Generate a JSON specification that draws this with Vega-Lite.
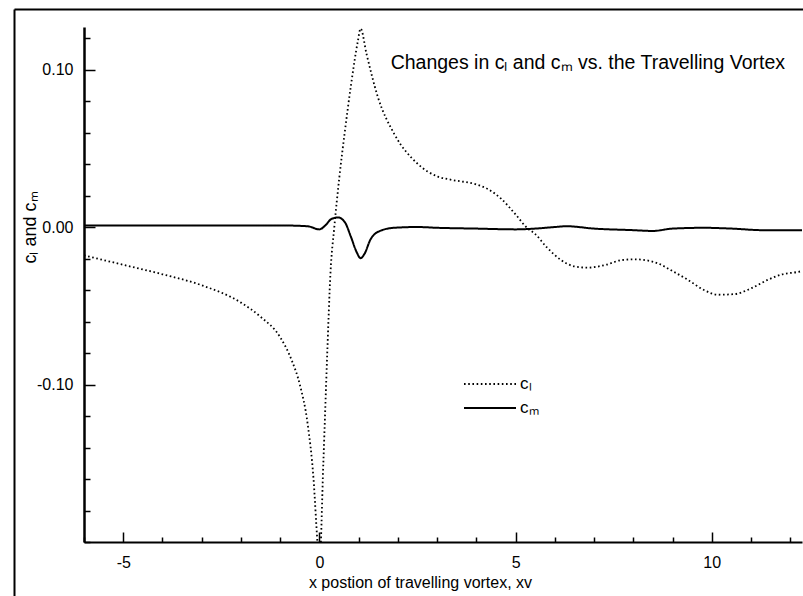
{
  "$schema": "https://vega.github.io/schema/vega-lite/v6.json",
  "autosize": {"type": "none"},
  "padding": {"left": 84, "top": 27, "right": 1, "bottom": 54},
  "width": 718,
  "height": 515,
  "background": "white",
  "config": {
    "view": {"stroke": null},
    "font": "Liberation Sans",
    "axis": {"domainColor": "black", "tickColor": "black", "labelColor": "black", "titleColor": "black", "labelFont": "Liberation Sans", "titleFont": "Liberation Sans", "titleFontWeight": "normal"}
  },
  "title": {
    "text": "Changes in cₗ and cₘ vs. the Travelling Vortex",
    "anchor": "end",
    "frame": "group",
    "orient": "top",
    "offset": -64,
    "dx": -17,
    "fontSize": 19.5,
    "fontWeight": "normal",
    "font": "Liberation Sans",
    "color": "black"
  },
  "data": {
    "values": [
      {"x": -6, "v": -0.018, "s": "cₗ"},
      {"x": -5, "v": -0.024, "s": "cₗ"},
      {"x": -4, "v": -0.030, "s": "cₗ"},
      {"x": -3, "v": -0.037, "s": "cₗ"},
      {"x": -2, "v": -0.048, "s": "cₗ"},
      {"x": -1.5, "v": -0.057, "s": "cₗ"},
      {"x": -1, "v": -0.070, "s": "cₗ"},
      {"x": -0.7, "v": -0.085, "s": "cₗ"},
      {"x": -0.5, "v": -0.100, "s": "cₗ"},
      {"x": -0.3, "v": -0.125, "s": "cₗ"},
      {"x": -0.15, "v": -0.160, "s": "cₗ"},
      {"x": -0.05, "v": -0.200, "s": "cₗ"},
      {"x": 0.0, "v": -0.215, "s": "cₗ"},
      {"x": 0.1, "v": -0.150, "s": "cₗ"},
      {"x": 0.2, "v": -0.080, "s": "cₗ"},
      {"x": 0.28, "v": -0.030, "s": "cₗ"},
      {"x": 0.38, "v": 0.000, "s": "cₗ"},
      {"x": 0.51, "v": 0.032, "s": "cₗ"},
      {"x": 0.64, "v": 0.059, "s": "cₗ"},
      {"x": 0.81, "v": 0.091, "s": "cₗ"},
      {"x": 0.98, "v": 0.118, "s": "cₗ"},
      {"x": 1.05, "v": 0.126, "s": "cₗ"},
      {"x": 1.2, "v": 0.110, "s": "cₗ"},
      {"x": 1.49, "v": 0.0825, "s": "cₗ"},
      {"x": 1.91, "v": 0.059, "s": "cₗ"},
      {"x": 2.51, "v": 0.040, "s": "cₗ"},
      {"x": 3.02, "v": 0.032, "s": "cₗ"},
      {"x": 3.36, "v": 0.030, "s": "cₗ"},
      {"x": 4.0, "v": 0.027, "s": "cₗ"},
      {"x": 4.3, "v": 0.024, "s": "cₗ"},
      {"x": 4.63, "v": 0.018, "s": "cₗ"},
      {"x": 5.0, "v": 0.008, "s": "cₗ"},
      {"x": 5.31, "v": -0.001, "s": "cₗ"},
      {"x": 5.48, "v": -0.004, "s": "cₗ"},
      {"x": 5.8, "v": -0.013, "s": "cₗ"},
      {"x": 6.16, "v": -0.021, "s": "cₗ"},
      {"x": 6.5, "v": -0.025, "s": "cₗ"},
      {"x": 6.84, "v": -0.0258, "s": "cₗ"},
      {"x": 7.3, "v": -0.024, "s": "cₗ"},
      {"x": 7.7, "v": -0.021, "s": "cₗ"},
      {"x": 8.03, "v": -0.0205, "s": "cₗ"},
      {"x": 8.3, "v": -0.021, "s": "cₗ"},
      {"x": 8.62, "v": -0.023, "s": "cₗ"},
      {"x": 9.0, "v": -0.028, "s": "cₗ"},
      {"x": 9.39, "v": -0.0335, "s": "cₗ"},
      {"x": 9.8, "v": -0.040, "s": "cₗ"},
      {"x": 10.15, "v": -0.043, "s": "cₗ"},
      {"x": 10.58, "v": -0.0426, "s": "cₗ"},
      {"x": 11.0, "v": -0.039, "s": "cₗ"},
      {"x": 11.43, "v": -0.0335, "s": "cₗ"},
      {"x": 11.8, "v": -0.030, "s": "cₗ"},
      {"x": 12.15, "v": -0.0287, "s": "cₗ"},
      {"x": 12.3, "v": -0.028, "s": "cₗ"},
      {"x": -6, "v": 0.001, "s": "cₘ"},
      {"x": -3, "v": 0.001, "s": "cₘ"},
      {"x": -1, "v": 0.001, "s": "cₘ"},
      {"x": -0.3, "v": 0.0005, "s": "cₘ"},
      {"x": 0.0, "v": -0.0015, "s": "cₘ"},
      {"x": 0.15, "v": 0.001, "s": "cₘ"},
      {"x": 0.3, "v": 0.005, "s": "cₘ"},
      {"x": 0.47, "v": 0.0061, "s": "cₘ"},
      {"x": 0.65, "v": 0.003, "s": "cₘ"},
      {"x": 0.8, "v": -0.006, "s": "cₘ"},
      {"x": 0.95, "v": -0.016, "s": "cₘ"},
      {"x": 1.05, "v": -0.0198, "s": "cₘ"},
      {"x": 1.15, "v": -0.017, "s": "cₘ"},
      {"x": 1.3, "v": -0.008, "s": "cₘ"},
      {"x": 1.5, "v": -0.003, "s": "cₘ"},
      {"x": 1.9, "v": -0.0005, "s": "cₘ"},
      {"x": 2.5, "v": 0.0, "s": "cₘ"},
      {"x": 3.0, "v": -0.0005, "s": "cₘ"},
      {"x": 4.0, "v": -0.001, "s": "cₘ"},
      {"x": 5.0, "v": -0.0015, "s": "cₘ"},
      {"x": 5.5, "v": -0.001, "s": "cₘ"},
      {"x": 6.0, "v": 0.0, "s": "cₘ"},
      {"x": 6.3, "v": 0.0005, "s": "cₘ"},
      {"x": 7.0, "v": -0.001, "s": "cₘ"},
      {"x": 8.0, "v": -0.002, "s": "cₘ"},
      {"x": 8.5, "v": -0.0025, "s": "cₘ"},
      {"x": 9.0, "v": -0.001, "s": "cₘ"},
      {"x": 9.8, "v": -0.0005, "s": "cₘ"},
      {"x": 10.5, "v": -0.001, "s": "cₘ"},
      {"x": 11.3, "v": -0.002, "s": "cₘ"},
      {"x": 12.3, "v": -0.002, "s": "cₘ"}
    ]
  },
  "layer": [
    {
      "mark": {"type": "line", "clip": true, "color": "black", "interpolate": "monotone"},
      "encoding": {
        "x": {
          "field": "x", "type": "quantitative",
          "scale": {"domain": [-6, 12.3], "nice": false, "zero": false},
          "axis": {
            "orient": "bottom",
            "values": [-6, -5, -4, -3, -2, -1, 0, 1, 2, 3, 4, 5, 6, 7, 8, 9, 10, 11, 12],
            "labelExpr": "datum.value % 5 === 0 ? toString(datum.value) : ''",
            "tickSize": {"condition": {"test": "datum.value % 5 === 0", "value": -10}, "value": -5},
            "tickWidth": 1.5,
            "domainWidth": 2,
            "grid": false,
            "labelFontSize": 16,
            "labelPadding": 22,
            "labelFlush": false,
            "labelOverlap": false,
            "title": "x postion of travelling vortex, xv",
            "titleFontSize": 16,
            "titleX": 336,
            "titleY": 45,
            "titleBaseline": "alphabetic"
          }
        },
        "y": {
          "field": "v", "type": "quantitative",
          "scale": {"domain": [-0.2, 0.127], "nice": false, "zero": false},
          "axis": {
            "orient": "left",
            "values": [-0.2, -0.18, -0.16, -0.14, -0.12, -0.1, -0.08, -0.06, -0.04, -0.02, 0, 0.02, 0.04, 0.06, 0.08, 0.1, 0.12],
            "labelExpr": "datum.value < -0.09 && datum.value > -0.11 ? '-0.10' : (abs(datum.value) < 0.001 ? '0.00' : (datum.value > 0.09 && datum.value < 0.11 ? '0.10' : ''))",
            "tickSize": {"condition": {"test": "abs(datum.value) < 0.001 || abs(abs(datum.value) - 0.1) < 0.001", "value": -11}, "value": -6},
            "tickWidth": 1.5,
            "domainWidth": 2.5,
            "grid": false,
            "labelFontSize": 16,
            "labelPadding": 22,
            "labelFlush": false,
            "labelOverlap": false,
            "title": "cₗ and cₘ",
            "titleFontSize": 18,
            "titleX": -54,
            "titleY": 200,
            "titleAngle": -90,
            "titleAlign": "center",
            "titleBaseline": "middle"
          }
        },
        "strokeDash": {
          "field": "s", "type": "nominal",
          "scale": {"domain": ["cₗ", "cₘ"], "range": [[1.6, 2.6], [1, 0]]},
          "legend": {
            "orient": "none",
            "legendX": 379,
            "legendY": 346,
            "title": null,
            "symbolType": "stroke",
            "symbolSize": 2700,
            "clipHeight": 22,
            "symbolStrokeWidth": 2,
            "symbolStrokeColor": "black",
            "labelFontSize": 17,
            "labelFont": "Liberation Sans",
            "labelColor": "black",
            "labelOffset": 3,
            "rowPadding": 2
          }
        },
        "strokeWidth": {
          "field": "s", "type": "nominal",
          "scale": {"domain": ["cₗ", "cₘ"], "range": [1.8, 2]},
          "legend": null
        }
      }
    },
    {
      "mark": {"type": "line", "opacity": 0},
      "encoding": {
        "x": {
          "field": "x", "type": "quantitative",
          "scale": {"domain": [-6, 12.3], "nice": false, "zero": false, "range": [-70, 719]},
          "axis": {"orient": "top", "offset": 18, "ticks": false, "labels": false, "title": null, "grid": false, "domainWidth": 2, "domainColor": "black"}
        },
        "y": {
          "field": "v", "type": "quantitative",
          "scale": {"domain": [-0.2, 0.127], "nice": false, "zero": false, "range": [569, -18]},
          "axis": {"orient": "left", "offset": 70, "ticks": false, "labels": false, "title": null, "grid": false, "domainWidth": 2, "domainColor": "black"}
        }
      }
    }
  ],
  "resolve": {"scale": {"x": "independent", "y": "independent"}, "axis": {"x": "independent", "y": "independent"}}
}
